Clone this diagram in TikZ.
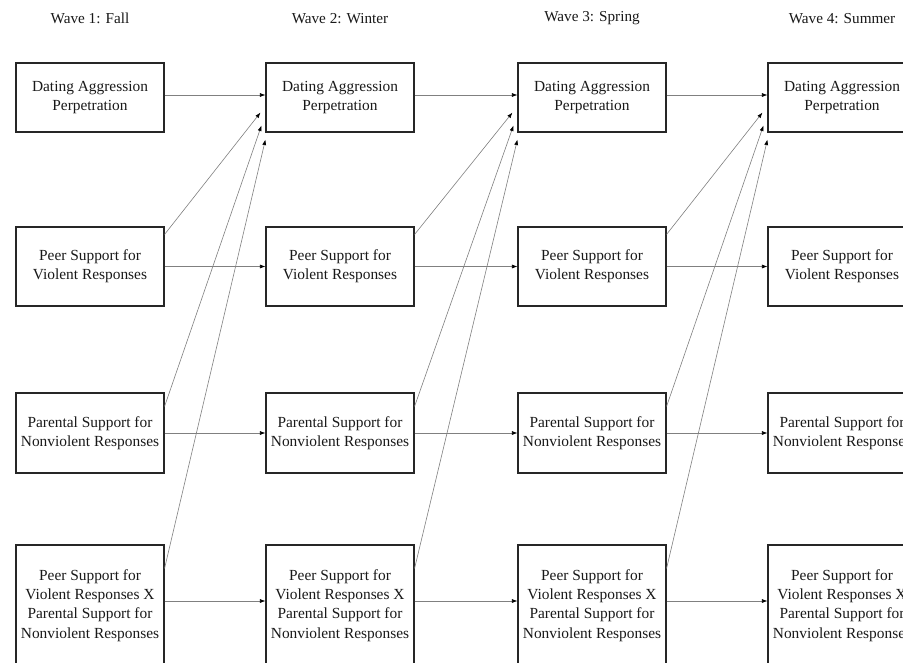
\documentclass[tikz,border=0pt]{standalone}
\usepackage{fontspec}
\setmainfont{Liberation Serif}
\usetikzlibrary{arrows.meta,calc}
\begin{document}
\begin{tikzpicture}[x=1pt,y=1pt,
  box/.style={draw=black!85,line width=1.1pt,fill=white,inner sep=0pt,align=center,
    minimum width=148pt,font=\fontsize{15.4}{19.3}\selectfont,text=black!90},
  head/.style={inner sep=0pt,font=\fontsize{15.2}{19}\selectfont,text=black!90},
  arr/.style={draw=black!50,line width=0.6pt,-{Latex[length=5.5pt,width=4pt,color=black]}}]
\useasboundingbox (0,0) rectangle (903,-662);
\clip (0,0) rectangle (903,-662);
\fill[white] (0,0) rectangle (903,-662);
\foreach \i/\cx/\lab in {1/90/{Wave 1: Fall},2/340/{Wave 2: Winter},3/592/{Wave 3: Spring},4/842/{Wave 4: Summer}}{
  \node[head] (h\i) at (\cx,-18.5) {\lab};
  \node[box,minimum height=69pt] (d\i) at (\cx,-97.5) {Dating Aggression\\Perpetration};
  \node[box,minimum height=79pt] (p\i) at (\cx,-266.5) {Peer Support for\\Violent Responses};
  \node[box,minimum height=80pt] (q\i) at (\cx,-433) {Parental Support for\\Nonviolent Responses};
  \node[box,minimum height=121pt] (x\i) at (\cx,-605.5) {Peer Support for\\Violent Responses X\\Parental Support for\\Nonviolent Responses};
}
\foreach \a/\b in {1/2,2/3,3/4}{
  \draw[arr] ([yshift=2.5pt]d\a.east) -- ([yshift=2.5pt]d\b.west);
  \draw[arr] (p\a.east) -- (p\b.west);
  \draw[arr] (q\a.east) -- (q\b.west);
  \draw[arr] ([yshift=4.5pt]x\a.east) -- ([yshift=4.5pt]x\b.west);
  \draw[arr] ([yshift=-8pt]p\a.north east) -- ([xshift=-5pt,yshift=20pt]d\b.south west);
  \draw[arr] ([yshift=-14pt]q\a.north east) -- ([xshift=-4pt,yshift=7pt]d\b.south west);
  \draw[arr] ([yshift=-24pt]x\a.north east) -- ([yshift=-7pt]d\b.south west);
}
\end{tikzpicture}
\end{document}
